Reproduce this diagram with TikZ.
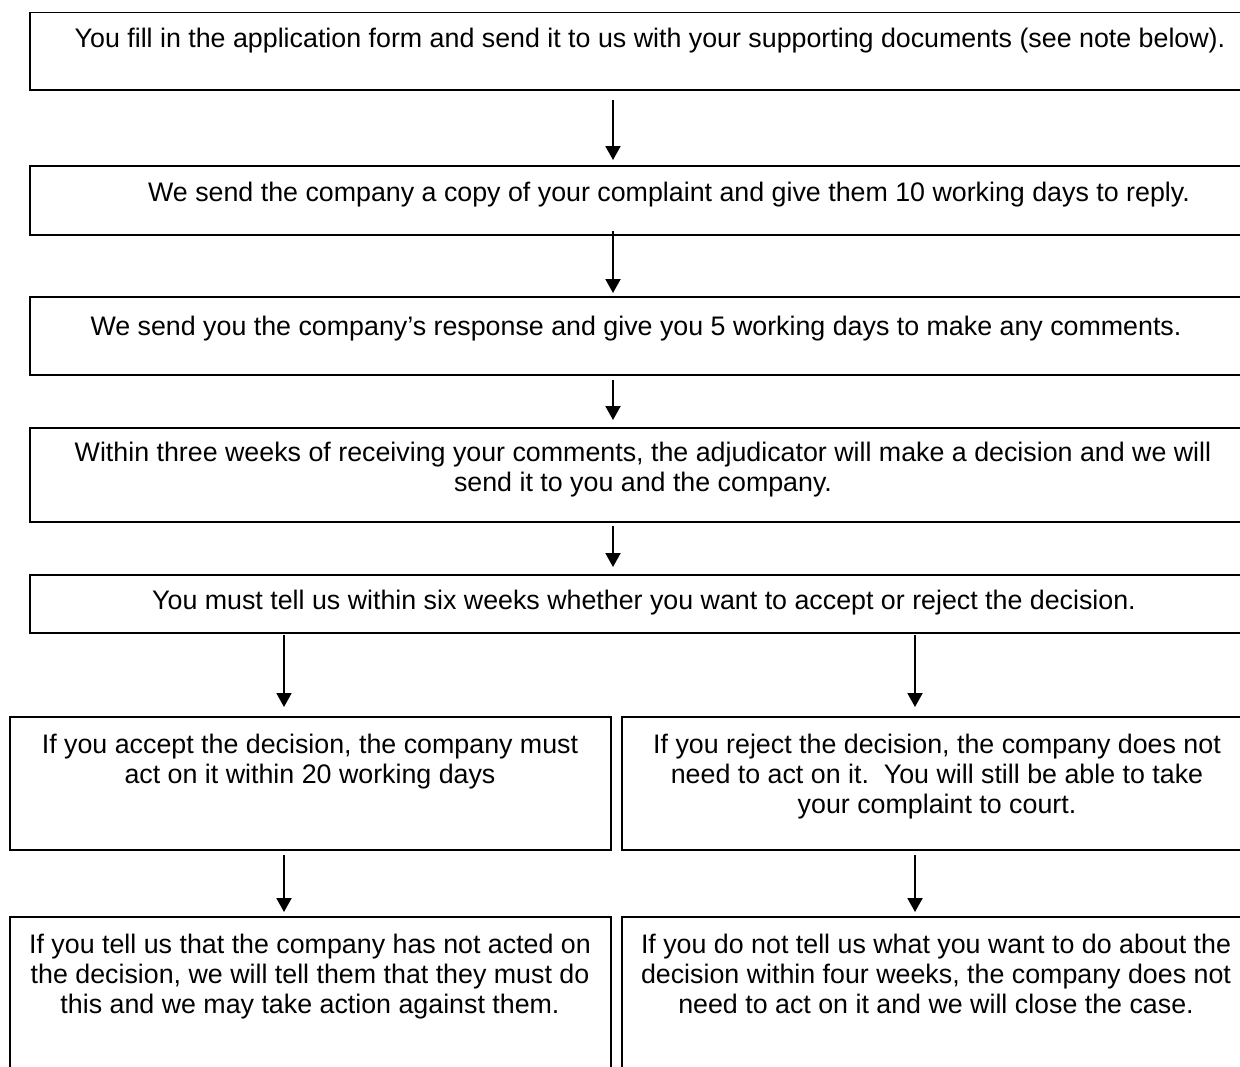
\documentclass[tikz,border=0pt]{standalone}
\usepackage{fontspec}
\setmainfont{Liberation Sans}
\usetikzlibrary{arrows.meta}
\newcommand\fctxt[1]{\begin{tabular}[t]{@{}c@{}}#1\end{tabular}}
\begin{document}
\begin{tikzpicture}[x=1pt,y=-1pt,
  box/.style={draw, line width=1.8pt, inner sep=0pt, outer sep=0pt, anchor=north west},
  txt/.style={inner sep=0pt, anchor=base, font=\fontsize{26.8}{30}\selectfont},
  arr/.style={line width=2pt, -{Triangle[width=15pt,length=14pt]}}]
\useasboundingbox (0,0) rectangle (1240,1066);
\clip (0,0) rectangle (1240,1066);
\fill[white] (0,0) rectangle (1240,1066);
\coordinate (colM) at (613,0);
\coordinate (colL) at (284,0);
\coordinate (colR) at (915,0);
% boxes
\node[box, minimum width=1240pt, minimum height=77.5pt] (b1) at (30,12.5) {};
\node[box, minimum width=1240pt, minimum height=69pt] (b2) at (30,166) {};
\node[box, minimum width=1240pt, minimum height=78pt] (b3) at (30,297) {};
\node[box, minimum width=1240pt, minimum height=94pt] (b4) at (30,428) {};
\node[box, minimum width=1240pt, minimum height=58pt] (b5) at (30,575) {};
\node[box, minimum width=601pt, minimum height=133pt] (b6l) at (10,717) {};
\node[box, minimum width=640pt, minimum height=133pt] (b6r) at (622,717) {};
\node[box, minimum width=601pt, minimum height=200pt] (b7l) at (10,917) {};
\node[box, minimum width=640pt, minimum height=200pt] (b7r) at (622,917) {};
% texts
\node[txt] (t1) at (650,47) {\fctxt{You fill in the application form and send it to us with your supporting documents (see note below).}};
\node[txt] (t2) at (669,201) {\fctxt{We send the company a copy of your complaint and give them 10 working days to reply.}};
\node[txt] (t3) at (636,335) {\fctxt{We send you the company’s response and give you 5 working days to make any comments.}};
\node[txt] (t4) at (643,461) {\fctxt{Within three weeks of receiving your comments, the adjudicator will make a decision and we will\\send it to you and the company.}};
\node[txt] (t5) at (644,609) {\fctxt{You must tell us within six weeks whether you want to accept or reject the decision.}};
\node[txt] (t6l) at (310,753) {\fctxt{If you accept the decision, the company must\\act on it within 20 working days}};
\node[txt] (t6r) at (937,753) {\fctxt{If you reject the decision, the company does not\\need to act on it.\ \ You will still be able to take\\your complaint to court.}};
\node[txt] (t7l) at (310,953) {\fctxt{If you tell us that the company has not acted on\\the decision, we will tell them that they must do\\this and we may take action against them.}};
\node[txt] (t7r) at (936,953) {\fctxt{If you do not tell us what you want to do about the\\decision within four weeks, the company does not\\need to act on it and we will close the case.}};
% arrows
\draw[arr, shorten <=10pt, shorten >=6pt] (b1.south -| colM) -- (b2.north -| colM);
\draw[arr, shorten <=-4pt, shorten >=4pt] (b2.south -| colM) -- (b3.north -| colM);
\draw[arr, shorten <=5pt, shorten >=8pt] (b3.south -| colM) -- (b4.north -| colM);
\draw[arr, shorten <=4pt, shorten >=8pt] (b4.south -| colM) -- (b5.north -| colM);
\draw[arr, shorten <=2pt, shorten >=10pt] (b5.south -| colL) -- (b6l.north -| colL);
\draw[arr, shorten <=2pt, shorten >=10pt] (b5.south -| colR) -- (b6r.north -| colR);
\draw[arr, shorten <=5pt, shorten >=5pt] (b6l.south -| colL) -- (b7l.north -| colL);
\draw[arr, shorten <=5pt, shorten >=5pt] (b6r.south -| colR) -- (b7r.north -| colR);
\end{tikzpicture}
\end{document}
